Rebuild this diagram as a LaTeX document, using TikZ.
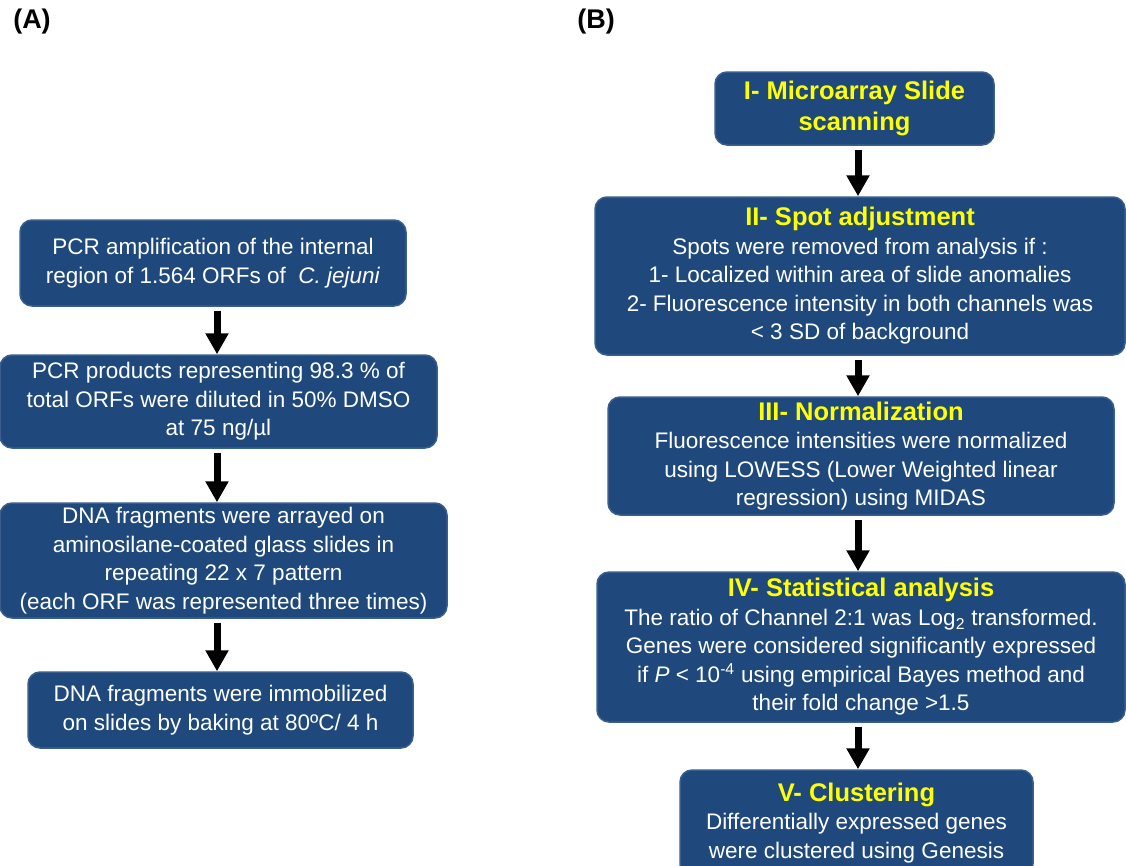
\documentclass[tikz,border=0pt]{standalone}
\usepackage{fontspec}
\setmainfont{Liberation Sans}
\usetikzlibrary{arrows.meta}
\definecolor{boxblue}{HTML}{1F497D}
\definecolor{boxedge}{HTML}{3A5F8F}
\definecolor{headyellow}{HTML}{FFFF00}
\newcommand{\steptitle}[1]{{\fontsize{25.5}{29}\selectfont\bfseries\color{headyellow}#1}}

\begin{document}
\begin{tikzpicture}[x=1pt,y=-1pt,
  stepbox/.style={draw=boxedge, line width=1.5pt, fill=boxblue, rounded corners=12pt,
    text=white, align=center, inner sep=0pt,
    font=\fontsize{22.5}{28.5}\selectfont},
  arr/.style={line width=7pt, -{Triangle[width=22pt,length=21pt]}, shorten <=4pt},
  panel/.style={font=\fontsize{27}{30}\selectfont\bfseries}]

\clip (0,0) rectangle (1126,865);
\fill[white] (0,0) rectangle (1126,865);

\node[panel] (la) at (32,22) {(A)};
\node[panel] (lb) at (596,22) {(B)};

\coordinate (ax) at (217,0);
\coordinate (bx) at (858,0);

\node[stepbox, minimum width=386pt, minimum height=86pt] (a1) at (213,263)
  {PCR amplification of the internal\\region of 1.564 ORFs of \ \textit{C. jejuni}};
\node[stepbox, minimum width=437pt, minimum height=93pt] (a2) at (218.5,401.5)
  {PCR products representing 98.3 \% of\\total ORFs were diluted in 50\% DMSO\\at 75 ng/µl};
\node[stepbox, minimum width=447pt, minimum height=115pt] (a3) at (223.5,560.5)
  {DNA fragments were arrayed on\\aminosilane-coated glass slides in\\repeating 22 x 7 pattern\\(each ORF was represented three times)};
\node[stepbox, minimum width=385pt, minimum height=76pt] (a4) at (220.5,710)
  {DNA fragments were immobilized\\on slides by baking at 80ºC/ 4 h};

\node[stepbox, minimum width=279pt, minimum height=73pt] (b1) at (854.5,108.5)
  {\steptitle{I- Microarray Slide}\\[2pt]\steptitle{scanning}};
\node[stepbox, minimum width=530pt, minimum height=158pt] (b2) at (860,276)
  {\steptitle{II- Spot adjustment}\\
   Spots were removed from analysis if :\\1- Localized within area of slide anomalies\\
   2- Fluorescence intensity in both channels was\\< 3 SD of background};
\node[stepbox, minimum width=506pt, minimum height=118pt] (b3) at (861,456)
  {\steptitle{III- Normalization}\\
   Fluorescence intensities were normalized\\using LOWESS (Lower Weighted linear\\regression) using MIDAS};
\node[stepbox, minimum width=528pt, minimum height=150pt] (b4) at (861,647)
  {\steptitle{IV- Statistical analysis}\\
   The ratio of Channel 2:1 was Log\textsubscript{2} transformed.\\
   Genes were considered significantly expressed\\
   if \textit{P} < 10\textsuperscript{-4} using empirical Bayes method and\\their fold change >1.5};
\node[stepbox, minimum width=353pt, minimum height=106pt] (b5) at (856.5,823)
  {\steptitle{V- Clustering}\\
   Differentially expressed genes\\were clustered using Genesis};

\draw[arr] (a1.south -| ax) -- (a2.north -| ax);
\draw[arr] (a2.south -| ax) -- (a3.north -| ax);
\draw[arr] (a3.south -| ax) -- (a4.north -| ax);

\draw[arr] (b1.south -| bx) -- (b2.north -| bx);
\draw[arr] (b2.south -| bx) -- (b3.north -| bx);
\draw[arr] (b3.south -| bx) -- (b4.north -| bx);
\draw[arr] (b4.south -| bx) -- (b5.north -| bx);

\end{tikzpicture}
\end{document}
